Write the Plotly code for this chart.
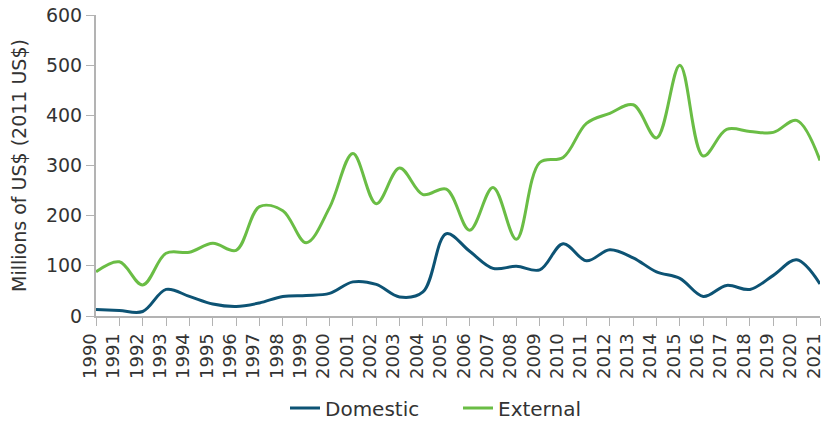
import plotly.graph_objects as go

years = list(range(1990, 2022))
domestic = [13, 11, 9, 53, 39, 24, 19, 26, 39, 41, 45, 68, 63, 38, 48, 164,
            129, 95, 99, 92, 144, 110, 132, 116, 88, 75, 39, 61, 53, 81, 112, 64]
external = [88, 108, 62, 125, 127, 145, 131, 218, 210, 146, 216, 324, 224, 295, 242, 253,
            171, 256, 153, 306, 316, 384, 404, 421, 355, 500, 319, 372, 368, 366, 390, 310]

font_family = "DejaVu Sans, sans-serif"
text_color = "#333333"
axis_color = "#b3b3b3"

fig = go.Figure()
fig.add_trace(go.Scatter(x=years, y=domestic, name="Domestic", mode="lines",
                         line=dict(color="#0d5374", width=3, shape="spline", smoothing=1)))
fig.add_trace(go.Scatter(x=years, y=external, name="External", mode="lines",
                         line=dict(color="#6abd45", width=3, shape="spline", smoothing=1)))

fig.update_layout(
    width=827, height=434,
    margin=dict(l=96, r=7, t=15, b=109),
    paper_bgcolor="white", plot_bgcolor="white",
    font=dict(family=font_family, color=text_color, size=18),
    showlegend=True,
    legend=dict(orientation="h", x=0.5, xanchor="center", y=-0.306, yanchor="middle",
                font=dict(size=20, color=text_color), itemwidth=30, entrywidth=128),
    xaxis=dict(range=[1990, 2021], tickvals=years, ticktext=[str(y) for y in years],
               tickangle=-90, showgrid=False, zeroline=False, automargin=False,
               ticklabeloverflow="allow", ticklabelshift=-6,
               showline=True, linecolor=axis_color, linewidth=2,
               ticks="outside", ticklen=8, tickcolor=axis_color, tickwidth=1,
               tickfont=dict(size=18, color=text_color)),
    yaxis=dict(range=[0, 600], tickvals=[0, 100, 200, 300, 400, 500, 600],
               showgrid=False, zeroline=False, automargin=False,
               showline=True, linecolor=axis_color, linewidth=2,
               ticks="outside", ticklen=8, tickcolor=axis_color, tickwidth=1,
               tickfont=dict(size=19, color=text_color),
               title=dict(text="Millions of US$ (2011 US$)", font=dict(size=19, color=text_color),
                          standoff=14)),
)

post = ("var h=document.documentElement,b=document.body;"
        "h.style.margin='0';h.style.height='434px';h.style.overflow='hidden';"
        "b.style.margin='0';b.style.height='434px';b.style.overflow='hidden';")
fig.write_html("out.html", config={"displayModeBar": False}, post_script=post)
